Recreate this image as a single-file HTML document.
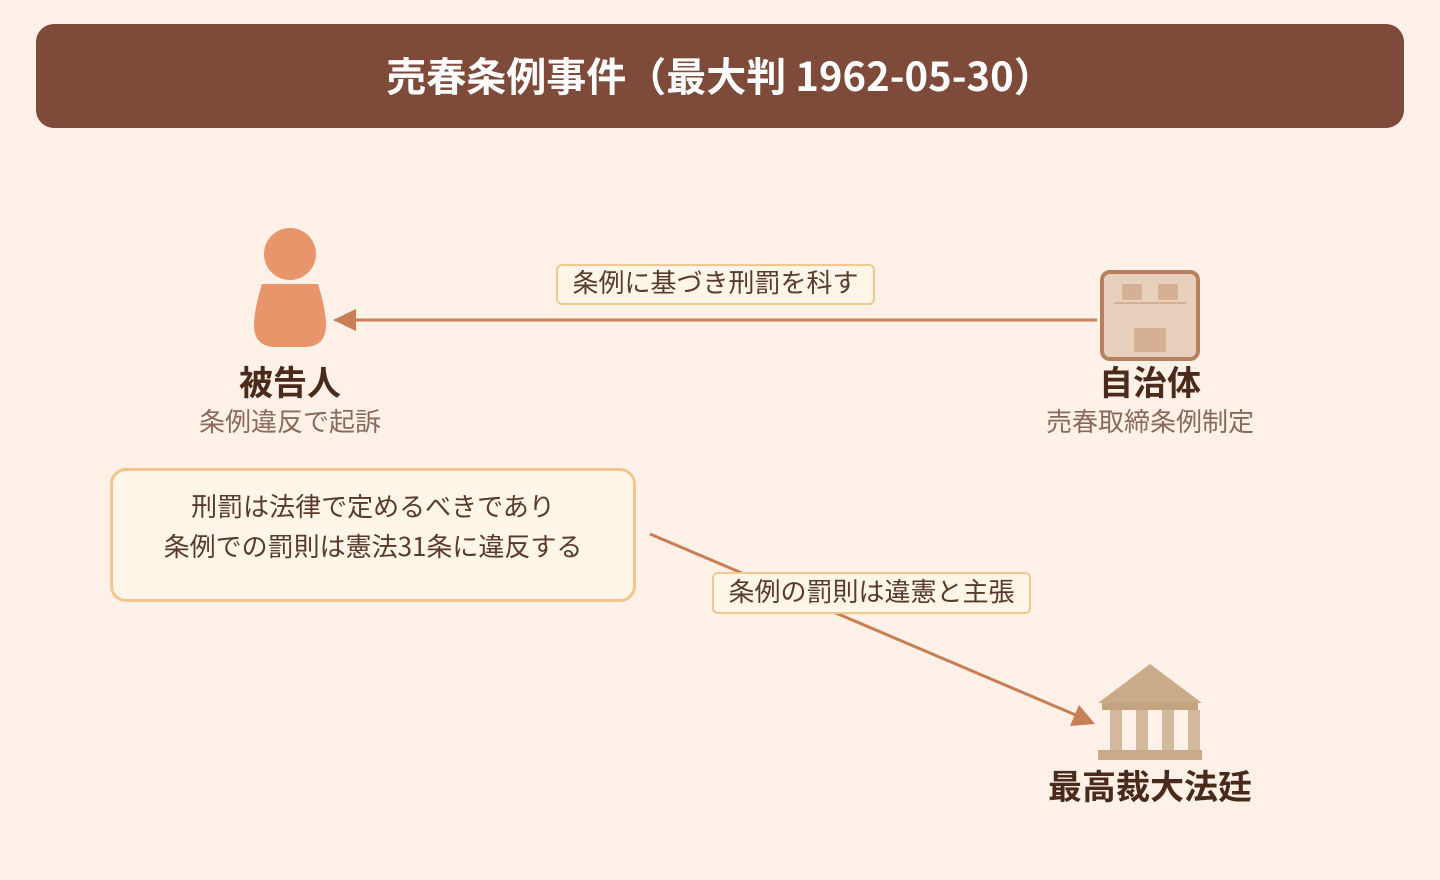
<!DOCTYPE html>
<html><head><meta charset="utf-8"><style>
body{margin:0;width:1440px;height:880px;background:#fff1e8;font-family:"Noto Sans CJK JP","Liberation Sans",sans-serif;position:relative;overflow:hidden}
.t{position:absolute;white-space:nowrap;text-align:center}
</style></head><body>
<div style="position:absolute;left:36px;top:24px;width:1368px;height:104px;background:#7e4a3a;border-radius:18px"></div>
<div class="t" style="left:36px;width:1368px;top:46px;font-size:40px;font-weight:bold;color:#fff;line-height:56px">売春条例事件（最大判 1962-05-30）</div>
<svg width="1440" height="880" style="position:absolute;left:0;top:0">
<line x1="1097" y1="320" x2="350" y2="320" stroke="#c97f56" stroke-width="3"/>
<polygon points="333,320 356,309 356,331" fill="#c97f56"/>
<line x1="650" y1="534" x2="1078" y2="716" stroke="#c97f56" stroke-width="3"/>
<polygon points="1095,724 1070,726 1079,705" fill="#c97f56"/>
<circle cx="290" cy="254" r="26" fill="#e8956b"/>
<path d="M262,284 L318,284 Q326,310 326,325 Q326,347 304,347 L276,347 Q254,347 254,325 Q254,310 262,284Z" fill="#e8956b"/>
<rect x="1102" y="272" width="96" height="87" rx="8" fill="#e8d1bc" stroke="#b98060" stroke-width="4"/>
<rect x="1122" y="284" width="20" height="16" rx="2" fill="#d4b095"/>
<rect x="1158" y="284" width="20" height="16" rx="2" fill="#d4b095"/>
<line x1="1114" y1="303" x2="1186" y2="303" stroke="#d4b095" stroke-width="2"/>
<rect x="1134" y="328" width="32" height="24" rx="2" fill="#d4b095"/>
<polygon points="1150,664 1202,703 1098,703" fill="#c9ab8a"/>
<rect x="1102" y="703" width="96" height="7" fill="#c4a382"/>
<rect x="1110" y="710" width="12" height="40" fill="#d4b89c"/>
<rect x="1136" y="710" width="12" height="40" fill="#d4b89c"/>
<rect x="1162" y="710" width="12" height="40" fill="#d4b89c"/>
<rect x="1188" y="710" width="12" height="40" fill="#d4b89c"/>
<rect x="1098" y="750" width="104" height="10" fill="#c9ab8a"/>
</svg>
<div style="position:absolute;left:556px;top:264px;width:315px;height:37px;background:#fff5e8;border:2px solid #f0c890;border-radius:6px"></div>
<div class="t" style="left:556px;width:319px;top:263px;font-size:26px;line-height:38px;color:#5a3a2a">条例に基づき刑罰を科す</div>
<div style="position:absolute;left:712px;top:572px;width:315px;height:38px;background:#fff5e8;border:2px solid #f0c890;border-radius:6px"></div>
<div class="t" style="left:712px;width:319px;top:571px;font-size:26px;line-height:40px;color:#5a3a2a">条例の罰則は違憲と主張</div>
<div style="position:absolute;left:110px;top:468px;width:520px;height:128px;background:#fff5e8;border:3px solid #f3c68e;border-radius:16px"></div>
<div class="t" style="left:110px;width:526px;top:486px;font-size:26px;line-height:40px;color:#5a3a2a">刑罰は法律で定めるべきであり<br>条例での罰則は憲法31条に違反する</div>
<div class="t" style="left:190px;width:200px;top:358px;font-size:34px;font-weight:bold;line-height:46px;color:#4a2a1a">被告人</div>
<div class="t" style="left:170px;width:240px;top:403px;font-size:26px;line-height:36px;color:#8a6a5a">条例違反で起訴</div>
<div class="t" style="left:1050px;width:200px;top:358px;font-size:34px;font-weight:bold;line-height:46px;color:#4a2a1a">自治体</div>
<div class="t" style="left:1020px;width:260px;top:403px;font-size:26px;line-height:36px;color:#8a6a5a">売春取締条例制定</div>
<div class="t" style="left:1020px;width:260px;top:762px;font-size:34px;font-weight:bold;line-height:46px;color:#4a2a1a">最高裁大法廷</div>
</body></html>
